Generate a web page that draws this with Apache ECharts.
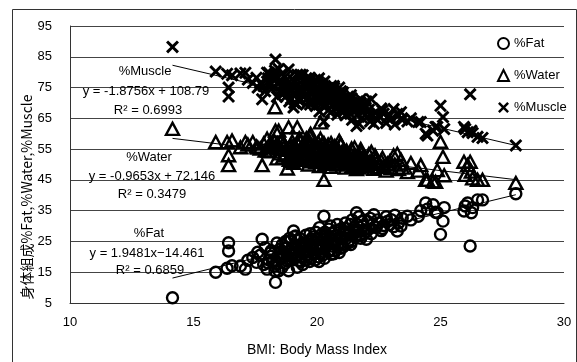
<!DOCTYPE html>
<html>
<head>
<meta charset="utf-8">
<script src="https://cdn.jsdelivr.net/npm/echarts@6/dist/echarts.min.js"></script>
<style>
  html, body { margin: 0; padding: 0; background: #fff; }
  #chart { width: 577px; height: 362px; }
</style>
</head>
<body>
<div id="chart"></div>
<script>
// one entry per subject: BMI and body composition
var bmi = [
  14.15, 15.90, 16.36, 16.42, 16.42, 16.56, 16.90, 17.10, 17.20, 17.40,
  17.55, 17.70, 17.78, 17.84, 17.98, 18.05, 18.10, 18.20, 18.30, 18.32,
  18.40, 18.45, 18.50, 18.55, 18.60, 18.65, 18.70, 18.75, 18.80, 18.85,
  18.90, 18.95, 19.00, 19.05, 19.10, 19.15, 19.20, 19.25, 19.30, 19.33,
  19.40, 19.45, 19.50, 19.55, 19.60, 19.65, 19.70, 19.74, 19.80, 19.85,
  19.90, 19.95, 20.00, 20.05, 20.10, 20.14, 20.14, 20.20, 20.25, 20.28,
  20.30, 20.35, 20.40, 20.45, 20.50, 20.55, 20.60, 20.65, 20.70, 20.75,
  20.80, 20.85, 20.90, 20.95, 21.00, 21.05, 21.10, 21.15, 21.20, 21.25,
  21.30, 21.35, 21.40, 21.45, 21.50, 21.55, 21.60, 21.65, 21.70, 21.77,
  21.85, 21.90, 22.00, 22.05, 22.10, 22.20, 22.25, 22.30, 22.40, 22.50,
  22.60, 22.70, 22.85, 23.00, 23.10, 23.25, 23.30, 23.45, 23.66, 23.80,
  24.10, 24.20, 24.40, 24.47, 24.70, 24.80, 24.87, 25.00, 25.10, 25.15,
  25.95, 26.00, 26.10, 26.20, 26.25, 26.30, 26.50, 26.70, 28.05,
  18.02, 18.15, 18.28, 18.38, 18.48, 18.58, 18.68, 18.78, 18.88, 18.98,
  19.03, 19.12, 19.22, 19.32, 19.42, 19.52, 19.62, 19.72, 19.82, 19.92,
  20.02, 20.12, 20.22, 20.32, 20.42, 20.52, 20.62, 20.72, 20.82, 20.92,
  21.02, 21.12, 21.22, 21.32, 21.42, 21.52, 21.62, 21.72, 21.82, 21.92,
  18.53, 18.73, 18.93, 19.13, 19.37, 19.57, 19.77, 19.97, 20.17, 20.37,
  20.57, 20.77, 20.97, 21.17, 21.37, 21.57, 21.77, 21.97, 22.15, 22.35,
  17.60, 17.90, 18.12, 18.35, 22.45, 22.65, 22.80, 22.95, 23.15, 23.40,
  19.08, 19.28, 19.48, 19.68, 19.88, 20.08, 20.28, 20.48, 20.68, 20.88
];
var fat = [
  6.7, 15.0, 16.3, 24.6, 21.9, 17.1, 17.0, 16.0, 18.9, 19.8,
  18.2, 20.5, 25.7, 17.5, 16.0, 19.0, 21.2, 18.5, 15.4, 11.7,
  20.0, 15.5, 22.5, 19.5, 24.0, 21.0, 17.8, 23.0, 20.3, 15.5,
  22.0, 25.5, 19.0, 28.4, 21.5, 23.8, 16.6, 20.5, 26.0, 18.3,
  22.8, 24.5, 20.0, 27.0, 22.0, 25.0, 18.5, 19.5, 23.5, 26.5,
  21.0, 28.0, 24.0, 20.0, 29.5, 21.0, 22.5, 25.5, 23.0, 33.2,
  19.5, 27.0, 24.8, 21.8, 26.0, 30.0, 23.5, 25.2, 22.0, 28.5,
  26.8, 24.0, 21.4, 29.0, 25.8, 23.2, 27.5, 31.0, 26.0, 24.5,
  28.0, 30.5, 25.0, 27.0, 29.5, 26.5, 34.3, 28.5, 33.0, 27.0,
  30.0, 28.8, 25.7, 31.5, 29.0, 27.5, 30.5, 33.7, 29.5, 31.0,
  28.5, 30.2, 31.5, 32.1, 29.8, 28.4, 31.0, 32.5, 33.2, 32.0,
  33.2, 35.0, 37.5, 35.5, 36.9, 34.5, 34.3, 27.3, 31.6, 36.0,
  34.9, 36.5, 37.5, 23.5, 34.3, 36.0, 38.5, 38.5, 40.5,
  18.0, 22.0, 17.0, 24.5, 19.5, 16.5, 22.8, 18.8, 26.0, 21.0,
  23.0, 19.8, 25.5, 21.8, 17.5, 24.2, 20.8, 27.5, 22.3, 19.0,
  26.0, 23.2, 20.5, 28.0, 25.0, 22.0, 27.8, 24.5, 30.5, 26.2,
  24.0, 29.2, 27.0, 25.5, 32.0, 28.0, 30.5, 26.8, 31.5, 27.5,
  21.5, 25.0, 20.5, 26.8, 23.5, 19.0, 25.8, 22.6, 27.2, 23.8,
  20.8, 25.8, 22.8, 28.2, 24.0, 29.0, 26.0, 28.2, 32.5, 29.8,
  21.5, 23.0, 20.2, 17.8, 32.0, 29.2, 33.0, 30.5, 33.5, 30.0,
  26.5, 18.8, 21.2, 23.2, 24.8, 18.5, 25.8, 29.0, 21.0, 27.8
];
var water = [
  61.6, 57.3, 57.3, 49.8, 53.0, 57.8, 55.6, 57.3, 56.5, 57.3,
  55.8, 55.2, 49.8, 56.8, 58.4, 56.0, 54.3, 55.5, 68.6, 61.0,
  56.8, 61.0, 53.6, 55.0, 52.2, 57.0, 56.2, 54.8, 48.7, 62.1,
  55.5, 51.0, 57.5, 50.5, 53.5, 55.0, 62.1, 56.4, 52.0, 58.0,
  54.2, 53.0, 56.0, 51.5, 57.0, 50.0, 59.3, 60.0, 54.5, 52.6,
  55.8, 50.8, 53.8, 57.2, 49.5, 63.7, 58.4, 52.4, 54.9, 45.0,
  55.4, 51.8, 53.0, 56.5, 50.5, 49.2, 55.6, 52.8, 54.0, 51.2,
  53.4, 55.0, 57.7, 56.7, 51.0, 53.2, 52.0, 49.0, 54.5, 50.8,
  52.5, 51.5, 55.2, 49.6, 53.0, 51.8, 48.5, 50.0, 49.0, 54.1,
  50.8, 52.8, 51.5, 49.5, 53.4, 54.1, 50.5, 48.6, 52.0, 50.2,
  51.2, 49.5, 50.3, 48.8, 53.0, 53.5, 48.5, 49.0, 47.5, 50.5,
  48.0, 49.8, 45.0, 45.0, 44.5, 44.4, 48.2, 57.4, 52.5, 46.5,
  50.9, 46.6, 49.8, 50.9, 47.7, 45.5, 45.0, 45.0, 44.0,
  54.5, 56.0, 57.5, 52.0, 55.5, 58.0, 53.0, 55.2, 51.5, 54.0,
  56.0, 54.0, 52.5, 57.5, 55.0, 56.5, 53.5, 51.0, 55.8, 57.0,
  55.0, 52.2, 56.8, 50.2, 54.5, 53.8, 52.0, 56.0, 50.0, 53.0,
  54.2, 50.5, 53.8, 52.2, 49.5, 55.5, 51.5, 53.0, 50.0, 52.5,
  57.5, 53.5, 56.2, 51.8, 55.5, 58.5, 53.2, 56.0, 51.2, 55.5,
  57.0, 54.8, 56.5, 52.0, 53.5, 50.2, 55.0, 49.8, 51.0, 53.0,
  55.5, 54.5, 57.2, 56.5, 49.2, 52.2, 48.0, 51.0, 50.0, 51.5,
  53.8, 58.5, 54.8, 57.8, 51.8, 55.5, 57.0, 52.5, 54.0, 51.5
];
var muscle = [
  88.2, 80.2, 79.5, 72.1, 75.0, 79.0, 79.6, 79.8, 77.6, 76.5,
  78.2, 76.4, 71.2, 75.5, 79.8, 79.8, 76.0, 77.8, 80.5, 84.1,
  76.5, 81.0, 74.0, 77.2, 72.8, 75.6, 78.5, 73.8, 76.2, 80.9,
  74.6, 71.4, 77.8, 68.5, 75.0, 72.9, 79.2, 76.0, 70.6, 79.2,
  73.9, 72.2, 76.7, 69.5, 74.6, 71.8, 78.2, 77.5, 73.2, 70.3,
  75.6, 69.0, 72.6, 76.8, 67.2, 76.2, 74.2, 71.3, 73.5, 64.0,
  77.0, 69.8, 72.0, 74.8, 70.8, 66.8, 73.0, 71.5, 74.9, 68.4,
  70.0, 72.5, 75.0, 67.8, 70.9, 73.4, 69.0, 66.0, 70.6, 72.0,
  68.8, 66.5, 71.5, 69.6, 67.4, 70.2, 62.5, 68.2, 63.2, 71.2,
  67.0, 68.0, 70.5, 65.5, 67.8, 71.2, 66.2, 63.2, 67.0, 65.8,
  68.2, 66.5, 65.2, 64.8, 68.0, 66.4, 66.0, 64.5, 64.0, 65.0,
  63.8, 63.8, 60.0, 59.4, 61.0, 62.2, 62.2, 69.1, 65.4, 61.5,
  62.2, 61.5, 60.5, 72.8, 61.0, 60.2, 59.0, 58.6, 56.2,
  78.0, 74.5, 79.0, 72.0, 77.0, 79.5, 73.5, 77.5, 70.5, 75.8,
  73.0, 76.8, 71.2, 74.5, 79.0, 72.5, 75.8, 69.5, 74.0, 77.5,
  70.8, 73.2, 76.0, 68.8, 71.8, 74.6, 69.2, 72.2, 66.2, 70.5,
  72.8, 67.5, 69.8, 71.2, 64.5, 68.6, 66.0, 70.2, 65.2, 69.2,
  75.5, 72.0, 76.0, 70.0, 73.5, 78.0, 71.0, 74.0, 69.5, 73.0,
  75.5, 70.5, 73.8, 68.2, 72.5, 67.6, 70.0, 68.5, 64.0, 66.8,
  75.0, 73.8, 76.5, 79.0, 64.5, 67.5, 63.5, 66.0, 63.0, 67.0,
  70.0, 78.5, 75.5, 73.8, 72.0, 78.0, 71.0, 67.8, 75.5, 69.0
];

// trendline coefficients [slope, intercept] as printed on the chart
var fatFit = [1.9481, -14.461];
var waterFit = [-0.9653, 72.146];
var muscleFit = [-1.8756, 108.79];

var xTicks = [10, 30, 5];
var yTicks = [5, 95, 10];

function pairs(xs, ys) {
  var out = [];
  for (var i = 0; i < xs.length; i++) out.push([xs[i], ys[i]]);
  return out;
}
function fitLine(c) {
  var x0 = Math.min.apply(null, bmi), x1 = Math.max.apply(null, bmi);
  return [[x0, c[0] * x0 + c[1]], [x1, c[0] * x1 + c[1]]];
}

var font = '"Liberation Sans", Arial, sans-serif';
var cross = 'path://M0,1.6L1.6,0L5,3.4L8.4,0L10,1.6L6.6,5L10,8.4L8.4,10L5,6.6L1.6,10L0,8.4L3.4,5Z';

var chart = echarts.init(document.getElementById('chart'));

function label(x, y, text) {
  return {
    type: 'text', x: x, y: y, z: 100,
    style: { text: text, fill: '#000', font: '13px ' + font, textAlign: 'center', textVerticalAlign: 'middle' }
  };
}

var option = {
  animation: false,
  backgroundColor: '#fff',
  grid: { left: 70, right: 13, top: 26, bottom: 56 },
  legend: {
    data: ['%Fat', '%Water', '%Muscle'],
    orient: 'vertical',
    left: 497, top: 37, padding: 0,
    itemWidth: 11, itemHeight: 11, itemGap: 19,
    textStyle: { fontSize: 13, color: '#000', fontFamily: font }
  },
  xAxis: {
    type: 'value', min: xTicks[0], max: xTicks[1], interval: xTicks[2],
    name: 'BMI: Body Mass Index', nameLocation: 'middle', nameGap: 40,
    nameTextStyle: { fontSize: 14, color: '#000', fontFamily: font },
    axisLine: { lineStyle: { color: '#333' } },
    axisTick: { show: false },
    axisLabel: { fontSize: 13, color: '#000', margin: 13, fontFamily: font },
    splitLine: { show: false }
  },
  yAxis: {
    type: 'value', min: yTicks[0], max: yTicks[1], interval: yTicks[2],
    axisLine: { show: true, lineStyle: { color: '#333' } },
    axisTick: { show: false },
    axisLabel: { fontSize: 13, color: '#000', margin: 18, fontFamily: font },
    splitLine: { lineStyle: { color: '#444', width: 1 } }
  },
  graphic: [
    {
      type: 'rect', z: -1, silent: true,
      shape: { x: 12.5, y: 9.5, width: 564, height: 362 },
      style: { fill: 'none', stroke: '#333', lineWidth: 1 }
    },
    {
      type: 'text', x: 27, y: 197, rotation: Math.PI / 2,
      style: {
        text: '身体組成%Fat,%Water,%Muscle', fill: '#000',
        font: '14px "Noto Sans CJK JP", sans-serif',
        textAlign: 'center', textVerticalAlign: 'middle'
      }
    },
    label(145, 71, '%Muscle'),
    label(146, 91, 'y = -1.8756x + 108.79'),
    label(148, 110, 'R² = 0.6993'),
    label(149, 157, '%Water'),
    label(152, 176, 'y = -0.9653x + 72.146'),
    label(152, 194, 'R² = 0.3479'),
    label(149, 233, '%Fat'),
    label(147, 253, 'y = 1.9481x−14.461'),
    label(150, 270, 'R² = 0.6859')
  ],
  series: [
    {
      name: '%Fat', type: 'scatter', symbol: 'circle', symbolSize: 11,
      itemStyle: { color: 'rgba(255,255,255,0)', borderColor: '#000', borderWidth: 2.4, opacity: 1 },
      data: pairs(bmi, fat)
    },
    {
      name: '%Water', type: 'scatter', symbol: 'triangle', symbolSize: [13, 12],
      itemStyle: { color: 'rgba(255,255,255,0)', borderColor: '#000', borderWidth: 2.4, opacity: 1 },
      data: pairs(bmi, water)
    },
    {
      name: '%Muscle', type: 'scatter', symbol: cross, symbolSize: 13,
      itemStyle: { color: '#000', opacity: 1 },
      data: pairs(bmi, muscle)
    },
    {
      name: 'fatFit', type: 'line', data: fitLine(fatFit), symbol: 'none',
      lineStyle: { color: '#000', width: 1 }, z: 3
    },
    {
      name: 'waterFit', type: 'line', data: fitLine(waterFit), symbol: 'none',
      lineStyle: { color: '#000', width: 1 }, z: 3
    },
    {
      name: 'muscleFit', type: 'line', data: fitLine(muscleFit), symbol: 'none',
      lineStyle: { color: '#000', width: 1 }, z: 3
    }
  ]
};

chart.setOption(option);
</script>
</body>
</html>
